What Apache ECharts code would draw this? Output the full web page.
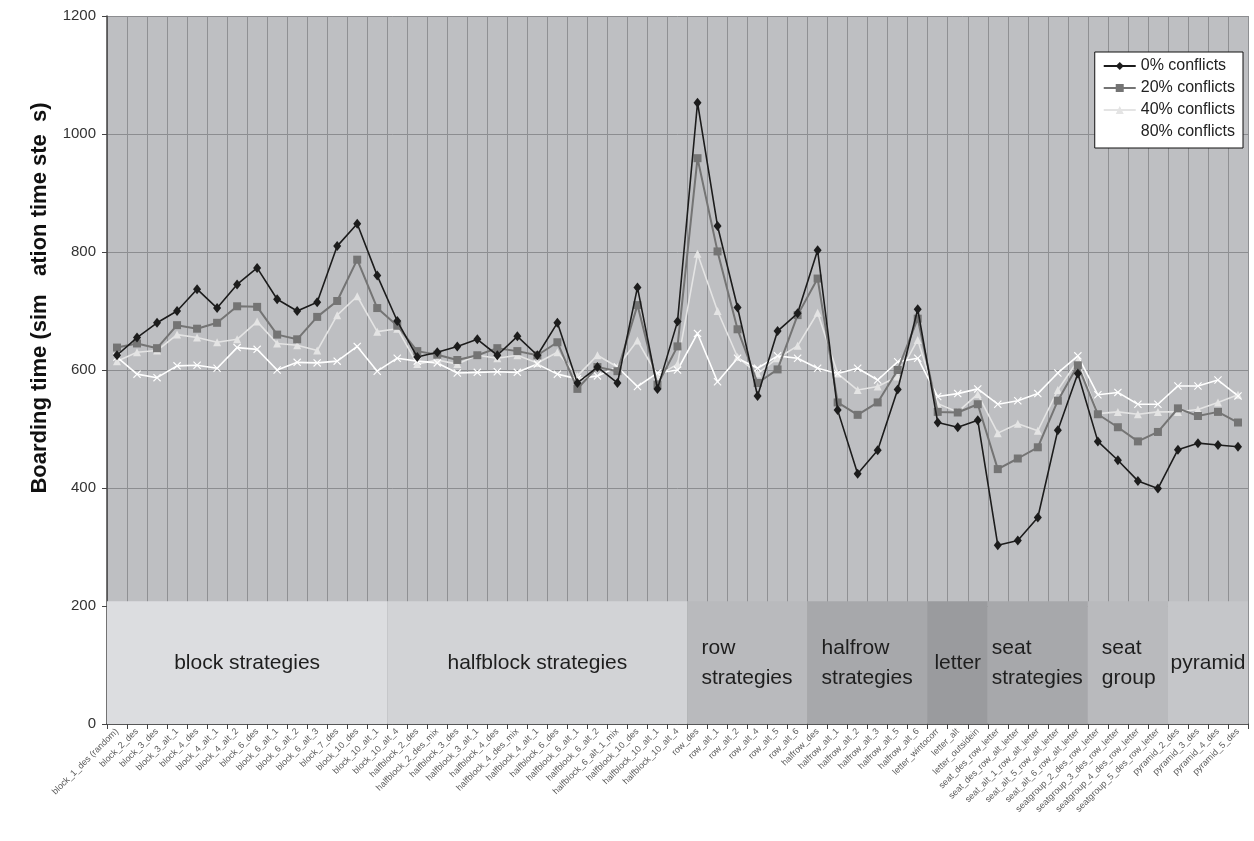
<!DOCTYPE html>
<html>
<head>
<meta charset="utf-8">
<script src="https://cdn.jsdelivr.net/npm/echarts@6/dist/echarts.min.js"></script>
<style>
html,body{margin:0;padding:0;background:#fff;}
#chart{width:1254px;height:841px;}
</style>
</head>
<body>
<div id="chart"></div>
<script>
const categories = [
  'block_1_des (random)','block_2_des','block_3_des','block_3_alt_1','block_4_des','block_4_alt_1','block_4_alt_2',
  'block_6_des','block_6_alt_1','block_6_alt_2','block_6_alt_3','block_7_des','block_10_des','block_10_alt_1','block_10_alt_4',
  'halfblock_2_des','halfblock_2_des_mix','halfblock_3_des','halfblock_3_alt_1','halfblock_4_des','halfblock_4_des_mix',
  'halfblock_4_alt_1','halfblock_6_des','halfblock_6_alt_1','halfblock_6_alt_2','halfblock_6_alt_1_mix','halfblock_10_des',
  'halfblock_10_alt_1','halfblock_10_alt_4',
  'row_des','row_alt_1','row_alt_2','row_alt_4','row_alt_5','row_alt_6',
  'halfrow_des','halfrow_alt_1','halfrow_alt_2','halfrow_alt_3','halfrow_alt_5','halfrow_alt_6',
  'letter_wintocorr','letter_alt','letter_outsidein',
  'seat_des_row_letter','seat_des_row_alt_letter','seat_alt_1_row_alt_letter','seat_alt_5_row_alt_letter','seat_alt_6_row_alt_letter',
  'seatgroup_2_des_row_letter','seatgroup_3_des_row_letter','seatgroup_4_des_row_letter','seatgroup_5_des_row_letter',
  'pyramid_2_des','pyramid_3_des','pyramid_4_des','pyramid_5_des'
];

const conf0 = [625,655,680,700,737,705,745,773,720,700,715,810,848,760,683,
  622,630,640,652,625,657,625,680,578,605,578,740,568,682,
  1053,844,706,556,666,696,
  803,532,424,464,567,703,
  511,503,515,
  303,311,350,498,594,
  479,447,412,399,
  465,476,473,470];

const conf20 = [638,645,637,676,670,680,708,707,660,652,690,717,787,705,675,
  632,626,617,625,637,632,625,647,568,605,598,710,575,640,
  959,801,669,578,601,693,
  755,545,524,545,600,687,
  529,528,542,
  432,450,469,548,608,
  525,503,479,495,
  535,522,529,511];

const conf40 = [615,630,633,660,655,647,652,682,645,642,633,693,725,665,670,
  610,617,610,625,620,625,612,630,590,625,605,650,590,610,
  797,700,622,594,620,641,
  697,594,566,572,589,651,
  543,529,559,
  493,509,497,566,616,
  526,529,525,529,
  529,533,545,558];

const conf80 = [622,593,587,607,608,603,638,635,600,613,612,615,640,598,620,
  615,612,595,596,597,596,610,593,585,590,605,572,595,600,
  662,580,620,603,624,620,
  603,594,603,583,614,620,
  555,560,568,
  542,548,560,595,624,
  558,562,542,542,
  573,573,583,556];

const seriesNames = ['0% conflicts','20% conflicts','40% conflicts','80% conflicts'];

const groupNames = ['block strategies','halfblock strategies','row\nstrategies','halfrow\nstrategies','letter','seat\nstrategies','seat\ngroup','pyramid'];
const groupStart = [0,14,29,35,41,44,49,53];
const groupEnd   = [14,29,35,41,44,49,53,57];
const groupTop = 208;

const yTicks = {min:0, max:1200, interval:200};

// styles
const groupColors = ['#dcdde0','#d2d3d6','#b9babd','#a7a8ab','#9a9b9e','#a7a8ab','#b9babd','#c5c6c9'];
const groupAlign  = ['center','center','left','left','center','left','left','center'];
const groupPad    = [0,0,14,14,0,4,14,0];

const FONT = '"Liberation Sans", Arial, sans-serif';
const xSymbol = 'path://M0,1 L1,0 L5,4 L9,0 L10,1 L6,5 L10,9 L9,10 L5,6 L1,10 L0,9 L4,5 Z';

const chart = echarts.init(document.getElementById('chart'), null, {renderer:'canvas'});

const option = {
  backgroundColor: '#ffffff',
  animation: false,
  textStyle: {fontFamily: FONT},
  grid: {left:107, right:6, top:16, bottom:117, show:true, backgroundColor:'#bebfc2', borderWidth:0},
  legend: {
    data: seriesNames,
    orient: 'vertical',
    right: 11, top: 52,
    backgroundColor: '#ffffff',
    borderColor: '#111', borderWidth: 1,
    padding: [6, 8, 8, 8],
    itemGap: 6,
    itemWidth: 32, itemHeight: 10,
    textStyle: {fontSize: 16, color:'#222', fontFamily: FONT}
  },
  xAxis: [
    {
      type: 'category', data: categories, boundaryGap: true,
      axisLine: {lineStyle:{color:'#444', width:1.5}},
      axisTick: {show:true, interval:0, length:5, lineStyle:{color:'#444'}},
      axisLabel: {interval:0, rotate:45, fontSize:9, color:'#5c5c5c', margin:6, fontFamily: FONT},
      splitLine: {show:true, interval:0, lineStyle:{color:'#8f9093', width:1}}
    },
    {type:'value', min:0, max:57, show:false}
  ],
  yAxis: {
    type: 'value', min: yTicks.min, max: yTicks.max, interval: yTicks.interval,
    axisLine: {show:true, lineStyle:{color:'#444', width:1.5}},
    axisTick: {show:true, length:5, lineStyle:{color:'#444'}},
    axisLabel: {fontSize:15, color:'#333', margin:11, fontFamily: FONT, formatter: v => String(v)},
    splitLine: {show:true, lineStyle:{color:'#8c8d90', width:1}}
  },
  graphic: [{
    type: 'text', x: 40, y: 298, rotation: Math.PI/2,
    style: {text: 'Boarding time (sim   ation time ste  s)', textAlign:'center', textVerticalAlign:'middle',
      font: 'bold 22px "Liberation Sans", Arial', fill:'#111'}
  }],
  series: [
    {
      type: 'custom', xAxisIndex: 1, yAxisIndex: 0, silent: true, z: 1,
      data: groupNames.map((n, i) => [groupStart[i], groupEnd[i], groupTop, i]),
      encode: {x:[0,1], y:2},
      renderItem: function(params, api) {
        const i = api.value(3);
        const p0 = api.coord([api.value(0), api.value(2)]);
        const p1 = api.coord([api.value(1), 0]);
        const align = groupAlign[i];
        const tx = align === 'center' ? (p0[0] + p1[0]) / 2 : p0[0] + groupPad[i];
        return {
          type: 'group',
          children: [
            {type:'rect', shape:{x:p0[0], y:p0[1], width:p1[0]-p0[0], height:p1[1]-p0[1]}, style:{fill:groupColors[i]}},
            {type:'text', style:{text:groupNames[i], x:tx, y:(p0[1]+p1[1])/2 + 1, textAlign:align, textVerticalAlign:'middle',
              font:'21px "Liberation Sans", Arial', fill:'#1e1e1e', lineHeight:30}}
          ]
        };
      }
    },
    {
      name: seriesNames[0], type:'line', data: conf0, z: 5,
      symbol:'diamond', symbolSize:[8,10],
      lineStyle:{color:'#1c1c1c', width:1.6}, itemStyle:{color:'#1c1c1c'}
    },
    {
      name: seriesNames[1], type:'line', data: conf20, z: 4,
      symbol:'rect', symbolSize:8,
      lineStyle:{color:'#747474', width:2}, itemStyle:{color:'#747474'}
    },
    {
      name: seriesNames[2], type:'line', data: conf40, z: 3,
      symbol:'triangle', symbolSize:8,
      lineStyle:{color:'#e4e4e4', width:1.6}, itemStyle:{color:'#e4e4e4'}
    },
    {
      name: seriesNames[3], type:'line', data: conf80, z: 3,
      symbol: xSymbol, symbolSize:8,
      lineStyle:{color:'#ffffff', width:1.6}, itemStyle:{color:'#ffffff'}
    }
  ]
};
chart.setOption(option);
</script>
</body>
</html>
